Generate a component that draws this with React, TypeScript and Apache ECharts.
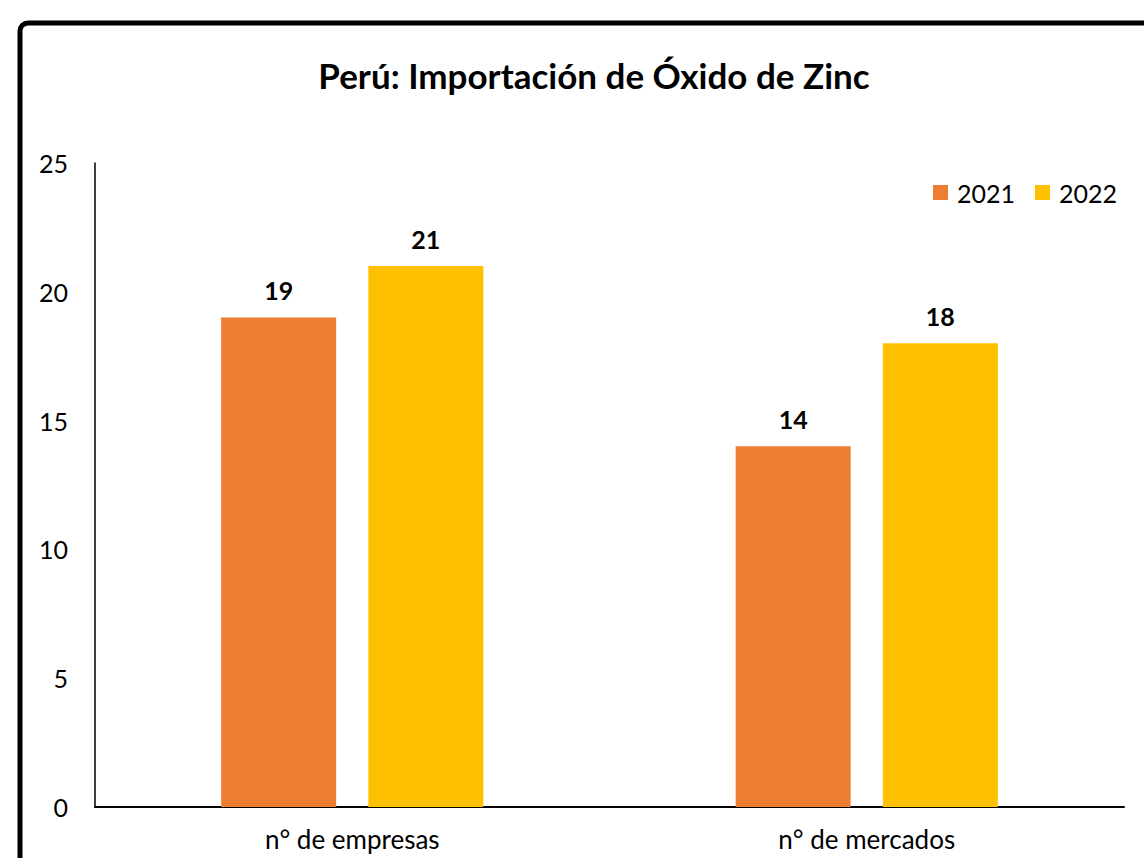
import React, { useEffect, useRef } from "react";
import * as echarts from "echarts";

const categories = ["n° de empresas", "n° de mercados"];
const seriesNames = ["2021", "2022"];
const values2021 = [19, 14];
const values2022 = [21, 18];
const colors = ["#ED7D31", "#FFC000"];

const FONT = "Lato, 'Open Sans', sans-serif";

export default function App() {
  const ref = useRef<HTMLDivElement>(null);
  useEffect(() => {
    if (!ref.current) return;
    const chart = echarts.init(ref.current, undefined, { renderer: "svg" });
    const label = {
      show: true,
      position: "top" as const,
      distance: 15,
      fontSize: 25,
      fontWeight: "bold" as const,
      color: "#000",
      fontFamily: FONT,
    };
    chart.setOption({
      animation: false,
      backgroundColor: "#fff",
      title: {
        text: "Perú: Importación de Óxido de Zinc",
        left: 589,
        textAlign: "center",
        top: 52,
        textStyle: { fontSize: 35, fontWeight: "bold", color: "#000", fontFamily: FONT },
      },
      legend: {
        data: seriesNames,
        right: 22,
        top: 175,
        itemWidth: 15,
        itemHeight: 15,
        itemGap: 20,
        icon: "rect",
        textStyle: { fontSize: 25, color: "#000", fontFamily: FONT, padding: [0, 0, 0, 4] },
      },
      grid: { left: 95, top: 163, right: 20, bottom: 51, containLabel: false },
      xAxis: {
        type: "category",
        data: categories,
        axisLine: { lineStyle: { color: "#000", width: 2 } },
        axisTick: { show: false },
        axisLabel: { fontSize: 26, color: "#000", margin: 19, fontFamily: FONT },
      },
      yAxis: {
        type: "value",
        min: 0,
        max: 25,
        interval: 5,
        axisLine: { show: true, lineStyle: { color: "#000", width: 1.5 } },
        axisTick: { show: false },
        splitLine: { show: false },
        axisLabel: { fontSize: 25, color: "#000", margin: 27, fontFamily: FONT },
      },
      series: [
        {
          name: seriesNames[0],
          type: "bar",
          data: values2021,
          barWidth: 115,
          barGap: "28%",
          itemStyle: { color: colors[0] },
          label,
        },
        {
          name: seriesNames[1],
          type: "bar",
          data: values2022,
          barWidth: 115,
          barGap: "28%",
          itemStyle: { color: colors[1] },
          label,
        },
      ],
      graphic: [
        {
          type: "rect",
          shape: { x: 20, y: 23, width: 1200, height: 900, r: 8 },
          style: { fill: "none", stroke: "#000", lineWidth: 5 },
          silent: true,
        },
      ],
    });
    return () => chart.dispose();
  }, []);
  return (
    <div
      ref={ref}
      style={{ position: "fixed", left: 0, top: 0, width: 1144, height: 858 }}
    />
  );
}
